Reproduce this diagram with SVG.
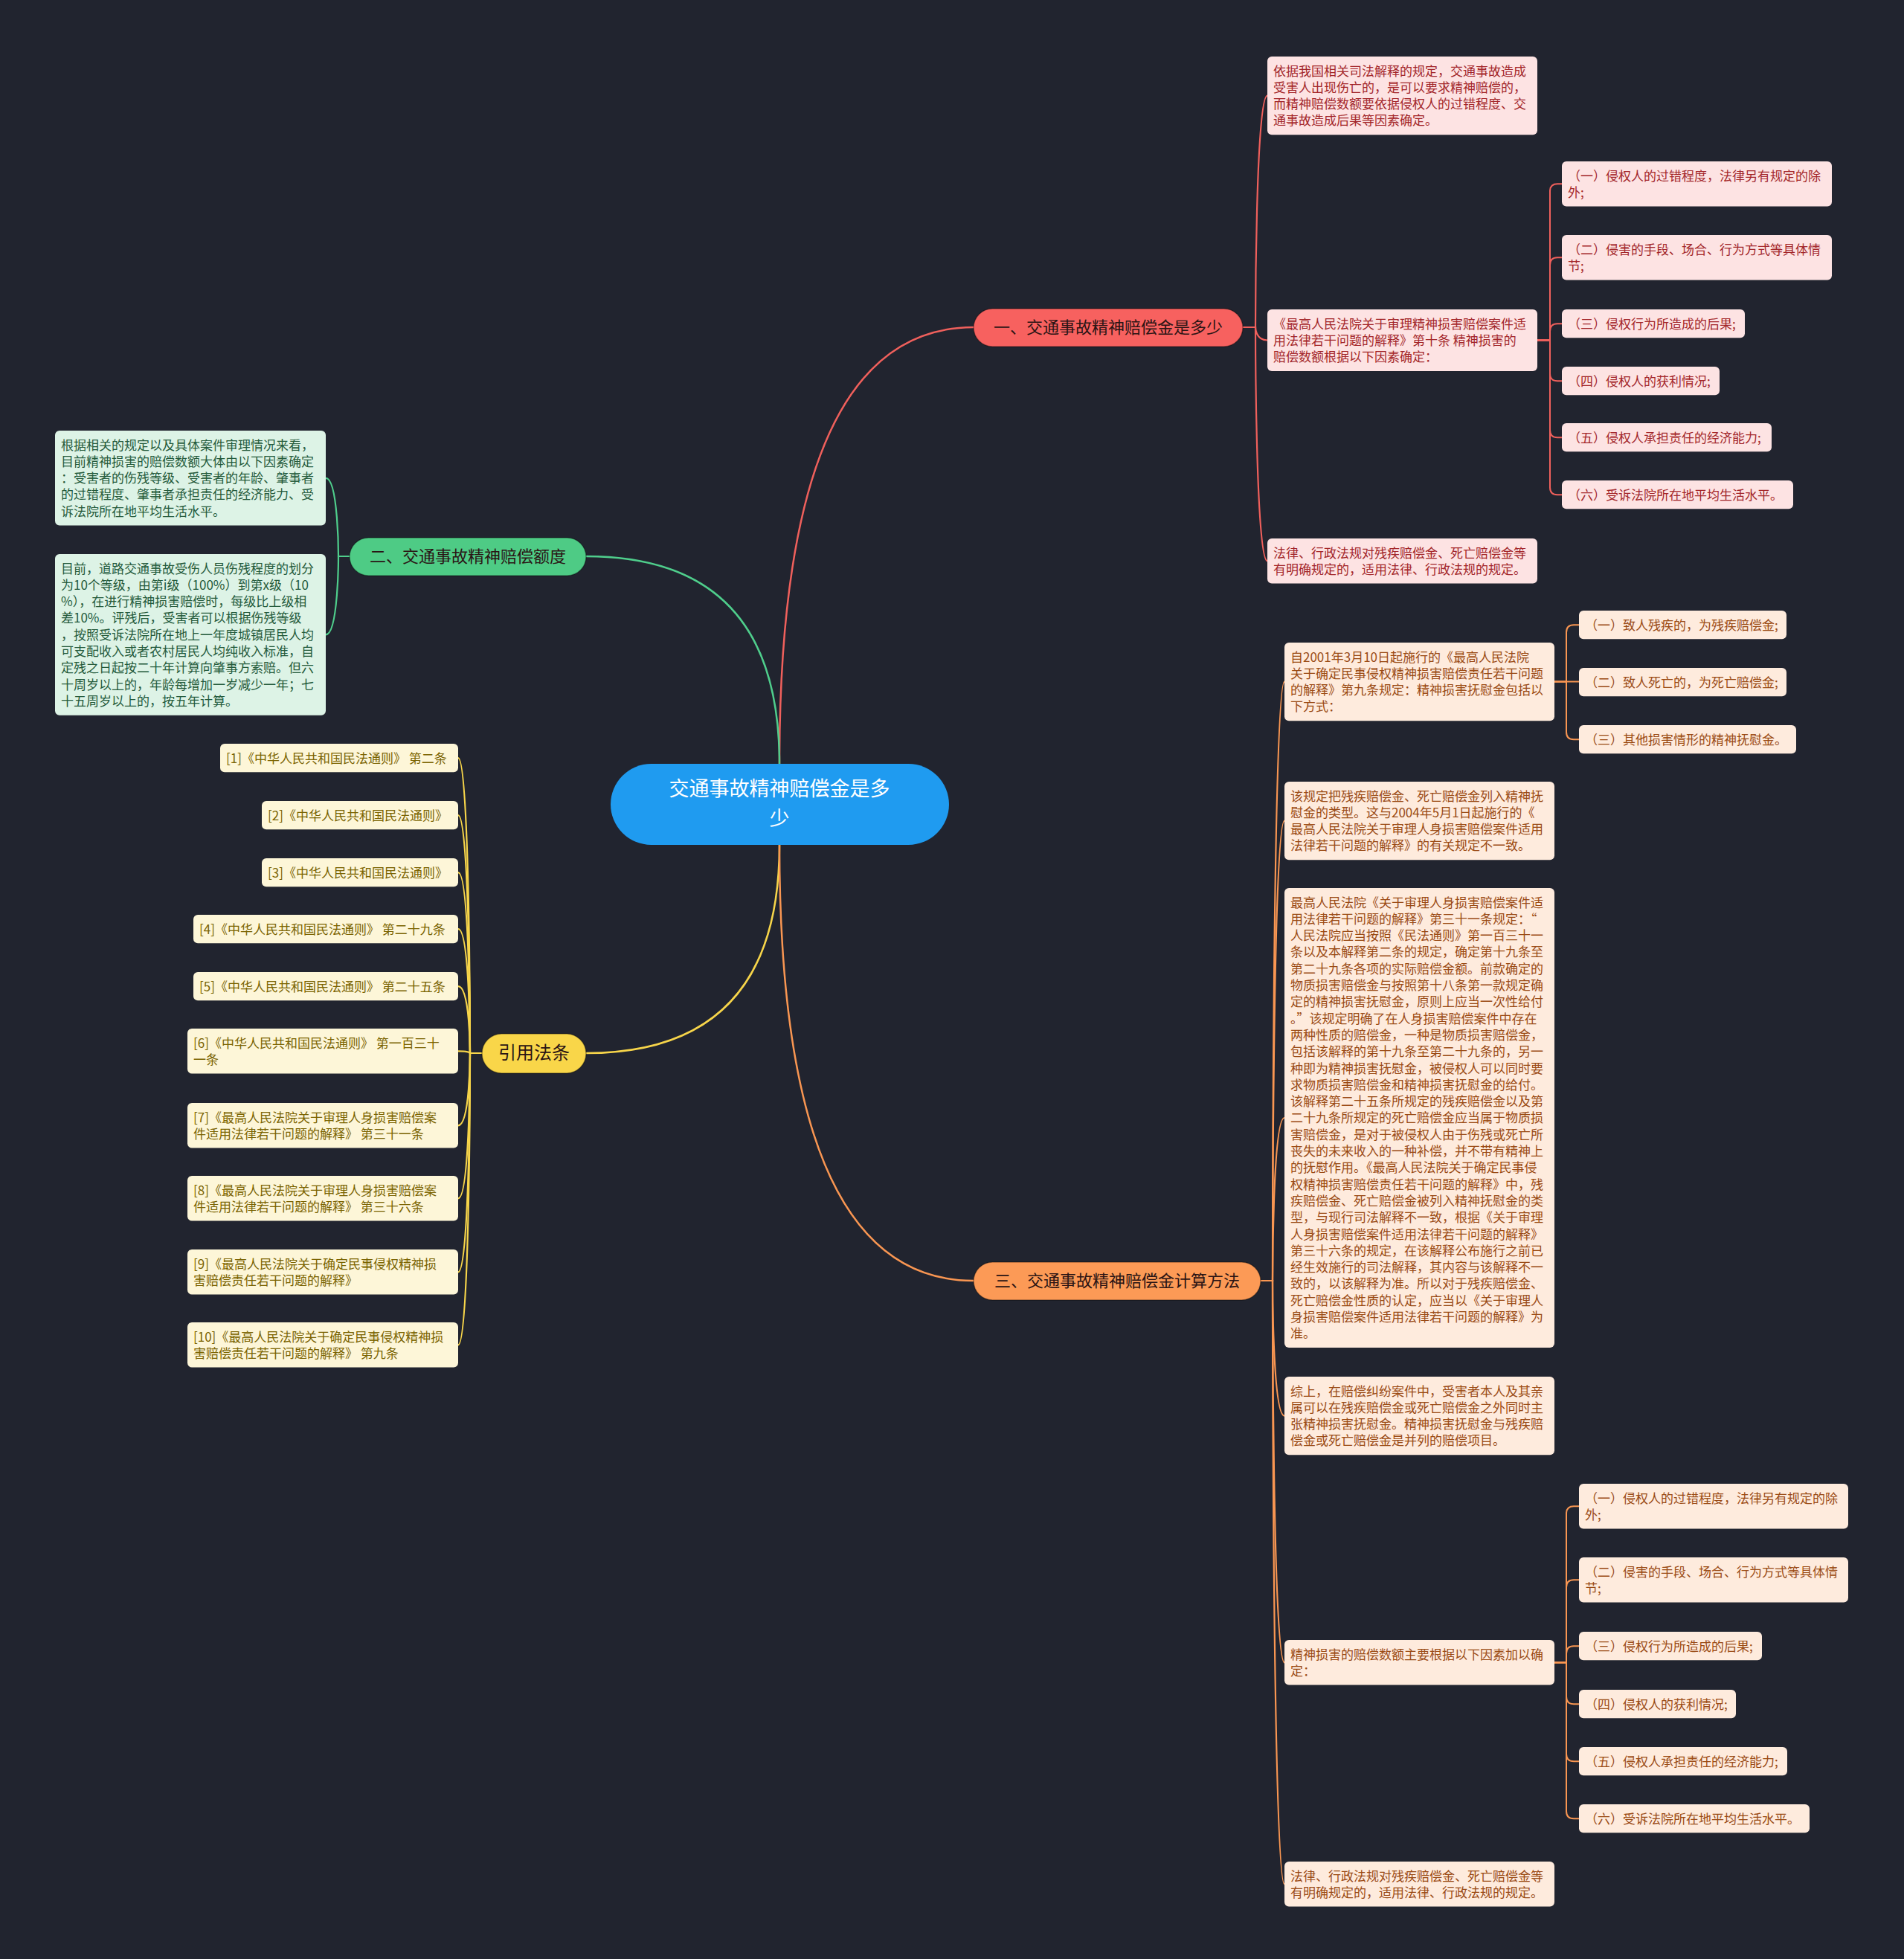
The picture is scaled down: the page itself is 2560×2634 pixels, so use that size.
<svg xmlns="http://www.w3.org/2000/svg" width="2560" height="2634" viewBox="0 0 2560 2634">
<style>
text{font-family:"Noto Sans CJK SC","Noto Sans",sans-serif;}
.leaf{font-size:17px;}
.pill{font-size:22px;text-anchor:middle;fill:#2a1414;}
.c{fill:none;stroke-linecap:round;}
.r{stroke:#f0605c;}
.o{stroke:#f99652;}
.g{stroke:#4fce8c;}
.y{stroke:#f7d54a;}
.m{stroke-width:2.5;}
.b{stroke-width:2.2;}
.s{stroke-width:2;}
.rb{fill:#fde3e3;}
.rt{fill:#a3262a;}
.ob{fill:#feebdd;}
.ot{fill:#9a4a14;}
.gb{fill:#ddf3e6;}
.gt{fill:#245a3b;}
.yb{fill:#fdf6d8;}
.yt{fill:#7a6300;}
.pb{stroke:rgba(0,0,0,0.35);stroke-width:1.5;}
</style>
<rect width="2560" height="2634" fill="#21242f"/>
<g id="connectors">
<path class="c r m" d="M1048,1027 Q1048,440 1309,440"/>
<path class="c g m" d="M1048,1027 Q1048,748 788,748"/>
<path class="c y m" d="M1048,1136 Q1048,1416 788,1416"/>
<path class="c o m" d="M1048,1136 Q1048,1722 1309,1722"/>
<path class="c r b" d="M1671,440 H1688 C1688,440 1688,128.6 1704,128.6"/>
<path class="c r b" d="M1671,440 H1688 C1688,440 1688,457.5 1704,457.5"/>
<path class="c r b" d="M1671,440 H1688 C1688,440 1688,754.3 1704,754.3"/>
<path class="c r s" d="M2067,457.5 H2084 V257.3 Q2084,247.3 2094,247.3 H2100"/>
<path class="c r s" d="M2067,457.5 H2084 V356.3 Q2084,346.3 2094,346.3 H2100"/>
<path class="c r s" d="M2067,457.5 H2084 V445.2 Q2084,435.2 2094,435.2 H2100"/>
<path class="c r s" d="M2067,457.5 H2084 V502.2 Q2084,512.2 2094,512.2 H2100"/>
<path class="c r s" d="M2067,457.5 H2084 V578.2 Q2084,588.2 2094,588.2 H2100"/>
<path class="c r s" d="M2067,457.5 H2084 V655.2 Q2084,665.2 2094,665.2 H2100"/>
<path class="c o b" d="M1694,1722 H1711 C1711,1722 1711,916.6 1727,916.6"/>
<path class="c o b" d="M1694,1722 H1711 C1711,1722 1711,1103.6 1727,1103.6"/>
<path class="c o b" d="M1694,1722 H1711 C1711,1722 1711,1503 1727,1503"/>
<path class="c o b" d="M1694,1722 H1711 C1711,1722 1711,1903.6 1727,1903.6"/>
<path class="c o b" d="M1694,1722 H1711 C1711,1722 1711,2235.3 1727,2235.3"/>
<path class="c o b" d="M1694,1722 H1711 C1711,1722 1711,2533.3 1727,2533.3"/>
<path class="c o s" d="M2090,916.6 H2106 V850.2 Q2106,840.2 2116,840.2 H2123"/>
<path class="c o s" d="M2090,916.6 H2123"/>
<path class="c o s" d="M2090,916.6 H2106 V984.2 Q2106,994.2 2116,994.2 H2123"/>
<path class="c o s" d="M2090,2235.3 H2106 V2035.3 Q2106,2025.3 2116,2025.3 H2123"/>
<path class="c o s" d="M2090,2235.3 H2106 V2134.3 Q2106,2124.3 2116,2124.3 H2123"/>
<path class="c o s" d="M2090,2235.3 H2106 V2223.2 Q2106,2213.2 2116,2213.2 H2123"/>
<path class="c o s" d="M2090,2235.3 H2106 V2281.2 Q2106,2291.2 2116,2291.2 H2123"/>
<path class="c o s" d="M2090,2235.3 H2106 V2358.2 Q2106,2368.2 2116,2368.2 H2123"/>
<path class="c o s" d="M2090,2235.3 H2106 V2435.2 Q2106,2445.2 2116,2445.2 H2123"/>
<path class="c g b" d="M470,748 H455 C455,748 455,642.8 438,642.8"/>
<path class="c g b" d="M470,748 H455 C455,748 455,853.4 438,853.4"/>
<path class="c y b" d="M648,1416 H632 C632,1416 632,1019.2 616,1019.2"/>
<path class="c y b" d="M648,1416 H632 C632,1416 632,1096.2 616,1096.2"/>
<path class="c y b" d="M648,1416 H632 C632,1416 632,1173.2 616,1173.2"/>
<path class="c y b" d="M648,1416 H632 C632,1416 632,1249.2 616,1249.2"/>
<path class="c y b" d="M648,1416 H632 C632,1416 632,1326.2 616,1326.2"/>
<path class="c y b" d="M648,1416 H632 C632,1416 632,1413.3 616,1413.3"/>
<path class="c y b" d="M648,1416 H632 C632,1416 632,1513.3 616,1513.3"/>
<path class="c y b" d="M648,1416 H632 C632,1416 632,1611.3 616,1611.3"/>
<path class="c y b" d="M648,1416 H632 C632,1416 632,1710.3 616,1710.3"/>
<path class="c y b" d="M648,1416 H632 C632,1416 632,1808.3 616,1808.3"/>
</g>

<g id="root">
<rect x="821" y="1027" width="455" height="109" rx="54.5" fill="#1f9bf0"/>
<text font-size="27" fill="#ffffff" text-anchor="middle"><tspan x="1048" y="1070">交通事故精神赔偿金是多</tspan><tspan x="1048" y="1109.5">少</tspan></text>
</g>

<g id="b1">
<rect class="pb" x="1309" y="415" width="362" height="51" rx="25.5" fill="#f7615f"/>
<text class="pill" x="1490" y="448">一、交通事故精神赔偿金是多少</text>
</g>
<g id="b2">
<rect class="pb" x="470" y="723" width="318" height="51" rx="25.5" fill="#4ecb85"/>
<text class="pill" x="629" y="756" fill="#143a24">二、交通事故精神赔偿额度</text>
</g>
<g id="b4">
<rect class="pb" x="648" y="1390" width="140" height="53" rx="26.5" fill="#f9d649"/>
<text class="pill" x="718" y="1424" style="font-size:24px" fill="#3a3010">引用法条</text>
</g>
<g id="b3">
<rect class="pb" x="1309" y="1697" width="386" height="51" rx="25.5" fill="#fc9a56"/>
<text class="pill" x="1502" y="1730" fill="#3b200e">三、交通事故精神赔偿金计算方法</text>
</g>

<g id="n1a"><rect class="rb" x="1704" y="76" width="363" height="105.2" rx="6"/>
<text class="leaf rt"><tspan x="1712" y="101.5">依据我国相关司法解释的规定，交通事故造成</tspan><tspan x="1712" y="123.8">受害人出现伤亡的，是可以要求精神赔偿的，</tspan><tspan x="1712" y="146.1">而精神赔偿数额要依据侵权人的过错程度、交</tspan><tspan x="1712" y="168.4">通事故造成后果等因素确定。</tspan></text></g>
<g id="n1b"><rect class="rb" x="1704" y="416" width="363" height="82.9" rx="6"/>
<text class="leaf rt"><tspan x="1712" y="441.5">《最高人民法院关于审理精神损害赔偿案件适</tspan><tspan x="1712" y="463.8">用法律若干问题的解释》第十条 精神损害的</tspan><tspan x="1712" y="486.1">赔偿数额根据以下因素确定：</tspan></text></g>
<g id="n1c"><rect class="rb" x="1704" y="724" width="363" height="60.6" rx="6"/>
<text class="leaf rt"><tspan x="1712" y="749.5">法律、行政法规对残疾赔偿金、死亡赔偿金等</tspan><tspan x="1712" y="771.8">有明确规定的，适用法律、行政法规的规定。</tspan></text></g>
<g id="n1b1"><rect class="rb" x="2100" y="217" width="363" height="60.6" rx="6"/>
<text class="leaf rt"><tspan x="2108" y="242.5">（一）侵权人的过错程度，法律另有规定的除</tspan><tspan x="2108" y="264.8">外;</tspan></text></g>
<g id="n1b2"><rect class="rb" x="2100" y="316" width="363" height="60.6" rx="6"/>
<text class="leaf rt"><tspan x="2108" y="341.5">（二）侵害的手段、场合、行为方式等具体情</tspan><tspan x="2108" y="363.8">节;</tspan></text></g>
<g id="n1b3"><rect class="rb" x="2100" y="416" width="246" height="38.3" rx="6"/>
<text class="leaf rt" x="2108" y="441.5">（三）侵权行为所造成的后果;</text></g>
<g id="n1b4"><rect class="rb" x="2100" y="493" width="212" height="38.3" rx="6"/>
<text class="leaf rt" x="2108" y="518.5">（四）侵权人的获利情况;</text></g>
<g id="n1b5"><rect class="rb" x="2100" y="569" width="282" height="38.3" rx="6"/>
<text class="leaf rt" x="2108" y="594.5">（五）侵权人承担责任的经济能力;</text></g>
<g id="n1b6"><rect class="rb" x="2100" y="646" width="311" height="38.3" rx="6"/>
<text class="leaf rt" x="2108" y="671.5">（六）受诉法院所在地平均生活水平。</text></g>

<g id="n2a"><rect class="gb" x="74" y="579" width="364" height="127.5" rx="6"/>
<text class="leaf gt"><tspan x="82" y="604.5">根据相关的规定以及具体案件审理情况来看，</tspan><tspan x="82" y="626.8">目前精神损害的赔偿数额大体由以下因素确定</tspan><tspan x="82" y="649.1">：受害者的伤残等级、受害者的年龄、肇事者</tspan><tspan x="82" y="671.4">的过错程度、肇事者承担责任的经济能力、受</tspan><tspan x="82" y="693.7">诉法院所在地平均生活水平。</tspan></text></g>
<g id="n2b"><rect class="gb" x="74" y="745" width="364" height="216.7" rx="6"/>
<text class="leaf gt"><tspan x="82" y="770.5">目前，道路交通事故受伤人员伤残程度的划分</tspan><tspan x="82" y="792.8">为10个等级，由第i级（100%）到第x级（10</tspan><tspan x="82" y="815.1">%），在进行精神损害赔偿时，每级比上级相</tspan><tspan x="82" y="837.4">差10%。评残后，受害者可以根据伤残等级</tspan><tspan x="82" y="859.7">，按照受诉法院所在地上一年度城镇居民人均</tspan><tspan x="82" y="882">可支配收入或者农村居民人均纯收入标准，自</tspan><tspan x="82" y="904.3">定残之日起按二十年计算向肇事方索赔。但六</tspan><tspan x="82" y="926.6">十周岁以上的，年龄每增加一岁减少一年；七</tspan><tspan x="82" y="948.9">十五周岁以上的，按五年计算。</tspan></text></g>

<g id="r1"><rect class="yb" x="296" y="1000" width="320" height="38.3" rx="6"/>
<text class="leaf yt" x="304" y="1025.5">[1]《中华人民共和国民法通则》 第二条</text></g>
<g id="r2"><rect class="yb" x="352" y="1077" width="264" height="38.3" rx="6"/>
<text class="leaf yt" x="360" y="1102.5">[2]《中华人民共和国民法通则》</text></g>
<g id="r3"><rect class="yb" x="352" y="1154" width="264" height="38.3" rx="6"/>
<text class="leaf yt" x="360" y="1179.5">[3]《中华人民共和国民法通则》</text></g>
<g id="r4"><rect class="yb" x="260" y="1230" width="356" height="38.3" rx="6"/>
<text class="leaf yt" x="268" y="1255.5">[4]《中华人民共和国民法通则》 第二十九条</text></g>
<g id="r5"><rect class="yb" x="260" y="1307" width="356" height="38.3" rx="6"/>
<text class="leaf yt" x="268" y="1332.5">[5]《中华人民共和国民法通则》 第二十五条</text></g>
<g id="r6"><rect class="yb" x="252" y="1383" width="364" height="60.6" rx="6"/>
<text class="leaf yt"><tspan x="260" y="1408.5">[6]《中华人民共和国民法通则》 第一百三十</tspan><tspan x="260" y="1430.8">一条</tspan></text></g>
<g id="r7"><rect class="yb" x="252" y="1483" width="364" height="60.6" rx="6"/>
<text class="leaf yt"><tspan x="260" y="1508.5">[7]《最高人民法院关于审理人身损害赔偿案</tspan><tspan x="260" y="1530.8">件适用法律若干问题的解释》 第三十一条</tspan></text></g>
<g id="r8"><rect class="yb" x="252" y="1581" width="364" height="60.6" rx="6"/>
<text class="leaf yt"><tspan x="260" y="1606.5">[8]《最高人民法院关于审理人身损害赔偿案</tspan><tspan x="260" y="1628.8">件适用法律若干问题的解释》 第三十六条</tspan></text></g>
<g id="r9"><rect class="yb" x="252" y="1680" width="364" height="60.6" rx="6"/>
<text class="leaf yt"><tspan x="260" y="1705.5">[9]《最高人民法院关于确定民事侵权精神损</tspan><tspan x="260" y="1727.8">害赔偿责任若干问题的解释》</tspan></text></g>
<g id="r10"><rect class="yb" x="252" y="1778" width="364" height="60.6" rx="6"/>
<text class="leaf yt"><tspan x="260" y="1803.5">[10]《最高人民法院关于确定民事侵权精神损</tspan><tspan x="260" y="1825.8">害赔偿责任若干问题的解释》 第九条</tspan></text></g>

<g id="n3a"><rect class="ob" x="1727" y="864" width="363" height="105.2" rx="6"/>
<text class="leaf ot"><tspan x="1735" y="889.5">自2001年3月10日起施行的《最高人民法院</tspan><tspan x="1735" y="911.8">关于确定民事侵权精神损害赔偿责任若干问题</tspan><tspan x="1735" y="934.1">的解释》第九条规定：精神损害抚慰金包括以</tspan><tspan x="1735" y="956.4">下方式：</tspan></text></g>
<g id="n3a1"><rect class="ob" x="2123" y="821" width="279" height="38.3" rx="6"/>
<text class="leaf ot" x="2131" y="846.5">（一）致人残疾的，为残疾赔偿金;</text></g>
<g id="n3a2"><rect class="ob" x="2123" y="898" width="279" height="38.3" rx="6"/>
<text class="leaf ot" x="2131" y="923.5">（二）致人死亡的，为死亡赔偿金;</text></g>
<g id="n3a3"><rect class="ob" x="2123" y="975" width="292" height="38.3" rx="6"/>
<text class="leaf ot" x="2131" y="1000.5">（三）其他损害情形的精神抚慰金。</text></g>
<g id="n3b"><rect class="ob" x="1727" y="1051" width="363" height="105.2" rx="6"/>
<text class="leaf ot"><tspan x="1735" y="1076.5">该规定把残疾赔偿金、死亡赔偿金列入精神抚</tspan><tspan x="1735" y="1098.8">慰金的类型。这与2004年5月1日起施行的《</tspan><tspan x="1735" y="1121.1">最高人民法院关于审理人身损害赔偿案件适用</tspan><tspan x="1735" y="1143.4">法律若干问题的解释》的有关规定不一致。</tspan></text></g>
<g id="n3c"><rect class="ob" x="1727" y="1194" width="363" height="618.1" rx="6"/>
<text class="leaf ot"><tspan x="1735" y="1219.5">最高人民法院《关于审理人身损害赔偿案件适</tspan><tspan x="1735" y="1241.8">用法律若干问题的解释》第三十一条规定：“</tspan><tspan x="1735" y="1264.1">人民法院应当按照《民法通则》第一百三十一</tspan><tspan x="1735" y="1286.4">条以及本解释第二条的规定，确定第十九条至</tspan><tspan x="1735" y="1308.7">第二十九条各项的实际赔偿金额。前款确定的</tspan><tspan x="1735" y="1331">物质损害赔偿金与按照第十八条第一款规定确</tspan><tspan x="1735" y="1353.3">定的精神损害抚慰金，原则上应当一次性给付</tspan><tspan x="1735" y="1375.6">。”该规定明确了在人身损害赔偿案件中存在</tspan><tspan x="1735" y="1397.9">两种性质的赔偿金，一种是物质损害赔偿金，</tspan><tspan x="1735" y="1420.2">包括该解释的第十九条至第二十九条的，另一</tspan><tspan x="1735" y="1442.5">种即为精神损害抚慰金，被侵权人可以同时要</tspan><tspan x="1735" y="1464.8">求物质损害赔偿金和精神损害抚慰金的给付。</tspan><tspan x="1735" y="1487.1">该解释第二十五条所规定的残疾赔偿金以及第</tspan><tspan x="1735" y="1509.4">二十九条所规定的死亡赔偿金应当属于物质损</tspan><tspan x="1735" y="1531.7">害赔偿金，是对于被侵权人由于伤残或死亡所</tspan><tspan x="1735" y="1554">丧失的未来收入的一种补偿，并不带有精神上</tspan><tspan x="1735" y="1576.3">的抚慰作用。《最高人民法院关于确定民事侵</tspan><tspan x="1735" y="1598.6">权精神损害赔偿责任若干问题的解释》中，残</tspan><tspan x="1735" y="1620.9">疾赔偿金、死亡赔偿金被列入精神抚慰金的类</tspan><tspan x="1735" y="1643.2">型，与现行司法解释不一致，根据《关于审理</tspan><tspan x="1735" y="1665.5">人身损害赔偿案件适用法律若干问题的解释》</tspan><tspan x="1735" y="1687.8">第三十六条的规定，在该解释公布施行之前已</tspan><tspan x="1735" y="1710.1">经生效施行的司法解释，其内容与该解释不一</tspan><tspan x="1735" y="1732.4">致的，以该解释为准。所以对于残疾赔偿金、</tspan><tspan x="1735" y="1754.7">死亡赔偿金性质的认定，应当以《关于审理人</tspan><tspan x="1735" y="1777">身损害赔偿案件适用法律若干问题的解释》为</tspan><tspan x="1735" y="1799.3">准。</tspan></text></g>
<g id="n3d"><rect class="ob" x="1727" y="1851" width="363" height="105.2" rx="6"/>
<text class="leaf ot"><tspan x="1735" y="1876.5">综上，在赔偿纠纷案件中，受害者本人及其亲</tspan><tspan x="1735" y="1898.8">属可以在残疾赔偿金或死亡赔偿金之外同时主</tspan><tspan x="1735" y="1921.1">张精神损害抚慰金。精神损害抚慰金与残疾赔</tspan><tspan x="1735" y="1943.4">偿金或死亡赔偿金是并列的赔偿项目。</tspan></text></g>
<g id="n3e"><rect class="ob" x="1727" y="2205" width="363" height="60.6" rx="6"/>
<text class="leaf ot"><tspan x="1735" y="2230.5">精神损害的赔偿数额主要根据以下因素加以确</tspan><tspan x="1735" y="2252.8">定：</tspan></text></g>
<g id="n3e1"><rect class="ob" x="2123" y="1995" width="362" height="60.6" rx="6"/>
<text class="leaf ot"><tspan x="2131" y="2020.5">（一）侵权人的过错程度，法律另有规定的除</tspan><tspan x="2131" y="2042.8">外;</tspan></text></g>
<g id="n3e2"><rect class="ob" x="2123" y="2094" width="362" height="60.6" rx="6"/>
<text class="leaf ot"><tspan x="2131" y="2119.5">（二）侵害的手段、场合、行为方式等具体情</tspan><tspan x="2131" y="2141.8">节;</tspan></text></g>
<g id="n3e3"><rect class="ob" x="2123" y="2194" width="246" height="38.3" rx="6"/>
<text class="leaf ot" x="2131" y="2219.5">（三）侵权行为所造成的后果;</text></g>
<g id="n3e4"><rect class="ob" x="2123" y="2272" width="211" height="38.3" rx="6"/>
<text class="leaf ot" x="2131" y="2297.5">（四）侵权人的获利情况;</text></g>
<g id="n3e5"><rect class="ob" x="2123" y="2349" width="280" height="38.3" rx="6"/>
<text class="leaf ot" x="2131" y="2374.5">（五）侵权人承担责任的经济能力;</text></g>
<g id="n3e6"><rect class="ob" x="2123" y="2426" width="310" height="38.3" rx="6"/>
<text class="leaf ot" x="2131" y="2451.5">（六）受诉法院所在地平均生活水平。</text></g>
<g id="n3f"><rect class="ob" x="1727" y="2503" width="363" height="60.6" rx="6"/>
<text class="leaf ot"><tspan x="1735" y="2528.5">法律、行政法规对残疾赔偿金、死亡赔偿金等</tspan><tspan x="1735" y="2550.8">有明确规定的，适用法律、行政法规的规定。</tspan></text></g>
</svg>
